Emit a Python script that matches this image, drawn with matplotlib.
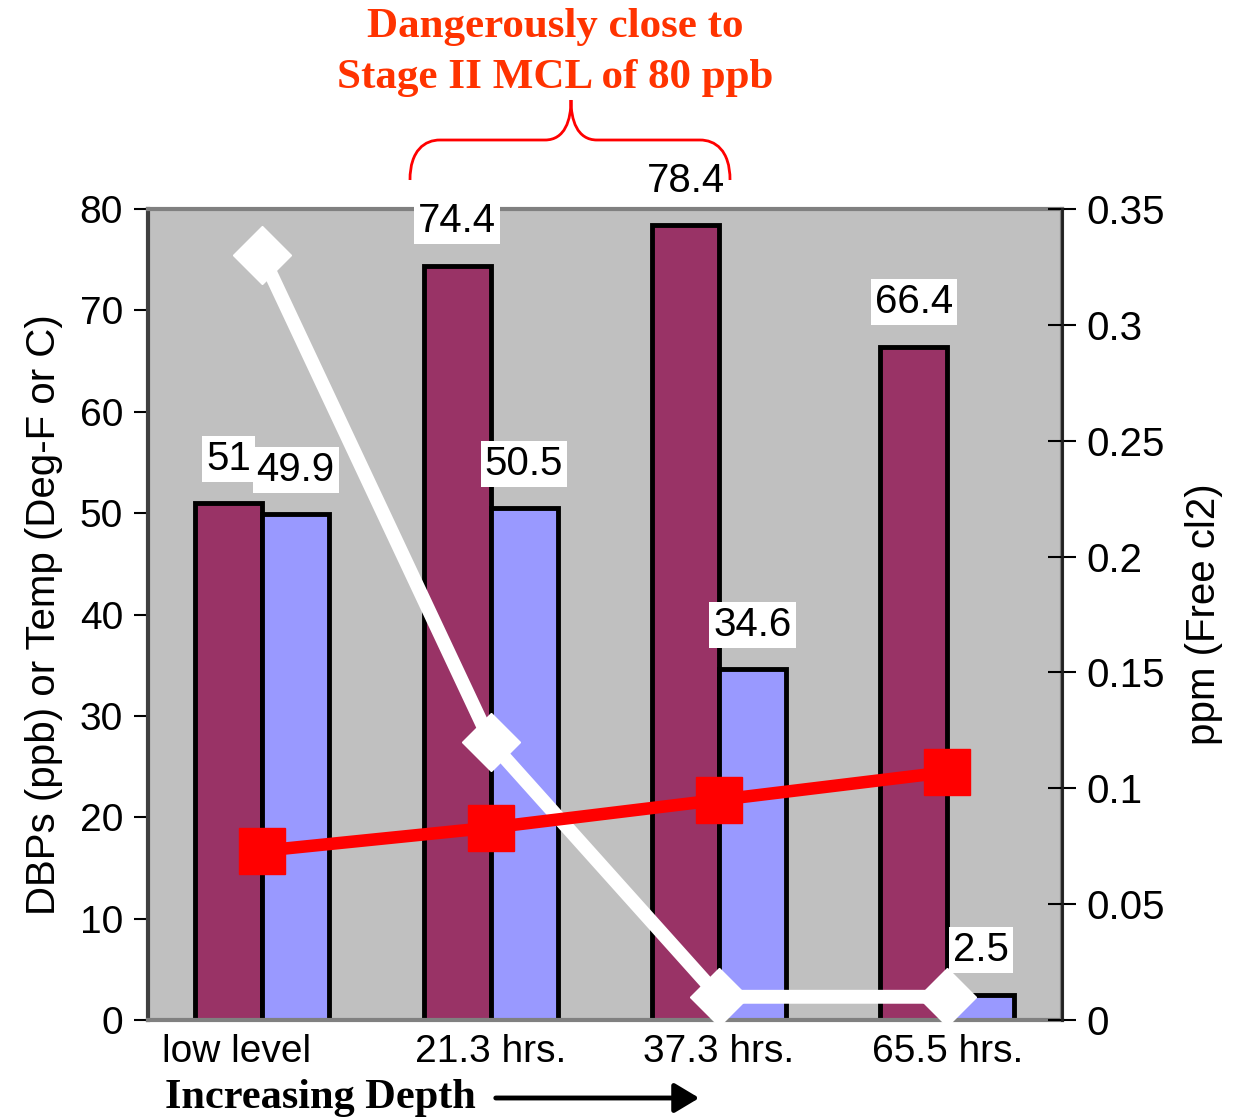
import matplotlib.pyplot as plt
from matplotlib.path import Path
from matplotlib.patches import PathPatch, FancyArrowPatch
from matplotlib.transforms import ScaledTranslation
import numpy as np

# data
categories = ['low level', '21.3 hrs.', '37.3 hrs.', '65.5 hrs.']
dbp_a = [51, 74.4, 78.4, 66.4]          # maroon bars (ppb)
dbp_b = [49.9, 50.5, 34.6, 2.5]         # blue bars
free_cl2 = [0.33, 0.12, 0.01, 0.01]     # white line, right axis (ppm)
temp_line = [0.073, 0.083, 0.095, 0.107]  # red line, right axis

plt.rcParams['font.family'] = ['Liberation Sans', 'DejaVu Sans']

fig = plt.figure(figsize=(12.33, 11.18), dpi=100)
ax = fig.add_axes([0.120, 0.0877, 0.741, 0.7253])
ax.set_facecolor('#c0c0c0')

x = np.arange(len(categories))
w = 0.293
ax.bar(x - w / 2, dbp_a, width=w, color='#993366', edgecolor='black', linewidth=3.5, zorder=2)
ax.bar(x + w / 2, dbp_b, width=w, color='#9999ff', edgecolor='black', linewidth=3.5, zorder=2)

ax.set_xlim(-0.5, 3.5)
ax.set_ylim(0, 80)
ax.set_yticks(range(0, 81, 10))
ax.set_xticks(x)
ax.set_xticklabels(categories)
ax.tick_params(axis='y', labelsize=28, direction='out', length=10, width=1.5, pad=8)
ax.tick_params(axis='x', labelsize=28, length=0, pad=10)
# first category label sits a little left of its bars in the original
lbl = ax.get_xticklabels()[0]
lbl.set_transform(lbl.get_transform() + ScaledTranslation(-0.26, 0, fig.dpi_scale_trans))
ax.set_ylabel('DBPs (ppb) or Temp (Deg-F or C)', fontsize=29, labelpad=12)
for s in ['top', 'bottom', 'right']:
    ax.spines[s].set_color('#808080')
    ax.spines[s].set_linewidth(3)
ax.spines['left'].set_color('#404040')
ax.spines['left'].set_linewidth(3)

for xs, vals in [(x - w / 2, dbp_a), (x + w / 2, dbp_b)]:
    for xi, v in zip(xs, vals):
        ax.annotate(f'{v:g}', (xi, v), xytext=(0, 32), textcoords='offset points',
                    ha='center', va='center', fontsize=29, zorder=6,
                    bbox=dict(boxstyle='square,pad=0.1', fc='white', ec='none'),
                    annotation_clip=False)

ax2 = ax.twinx()
ax2.set_ylim(0, 0.35)
ax2.set_yticks([0, 0.05, 0.1, 0.15, 0.2, 0.25, 0.3, 0.35])
ax2.set_yticklabels(['0', '0.05', '0.1', '0.15', '0.2', '0.25', '0.3', '0.35'])
ax2.tick_params(axis='y', labelsize=29, direction='inout', length=20, width=1.5, pad=8)
ax2.set_ylabel('ppm (Free cl2)', fontsize=29, labelpad=14)
for s in ['top', 'bottom', 'left']:
    ax2.spines[s].set_visible(False)
ax2.spines['right'].set_color('#202020')
ax2.spines['right'].set_linewidth(2)

ax2.plot(x, free_cl2, color='white', linewidth=10, marker='D', markersize=30,
         markerfacecolor='white', markeredgecolor='white', zorder=3, clip_on=False)
ax2.plot(x, temp_line, color='red', linewidth=9, marker='s', markersize=33,
         markerfacecolor='red', markeredgecolor='red', zorder=4, clip_on=False)

# annotation text and brace
fig.text(0.450, 0.976, 'Dangerously close to', color='#ff3300', fontsize=31,
         fontweight='bold', family='Liberation Serif', ha='center', va='center')
fig.text(0.450, 0.930, 'Stage II MCL of 80 ppb', color='#ff3300', fontsize=31,
         fontweight='bold', family='Liberation Serif', ha='center', va='center')

W, H = 1233, 1118
pts = [(410, 180), (410, 150), (425, 140), (440, 140),
       (545, 140), (565, 140), (571, 120), (571, 100),
       (571, 120), (577, 140), (597, 140),
       (700, 140), (715, 140), (730, 150), (730, 180)]
verts = [(px / W, 1 - py / H) for px, py in pts]
codes = [Path.MOVETO, Path.CURVE4, Path.CURVE4, Path.CURVE4,
         Path.LINETO, Path.CURVE4, Path.CURVE4, Path.CURVE4,
         Path.CURVE4, Path.CURVE4, Path.CURVE4,
         Path.LINETO, Path.CURVE4, Path.CURVE4, Path.CURVE4]
fig.add_artist(PathPatch(Path(verts, codes), transform=fig.transFigure,
                         fill=False, edgecolor='red', linewidth=2))

fig.text(165 / W, 1 - 1098 / H, 'Increasing Depth', fontsize=30.5, fontweight='bold',
         family='Liberation Serif', ha='left', va='center')
fig.add_artist(FancyArrowPatch((493 / W, 1 - 1098 / H), (702 / W, 1 - 1098 / H),
                               transform=fig.transFigure, arrowstyle='-|>,head_length=10,head_width=6',
                               mutation_scale=1.5, color='black', linewidth=3.5))

fig.savefig('out.png', dpi=100)
